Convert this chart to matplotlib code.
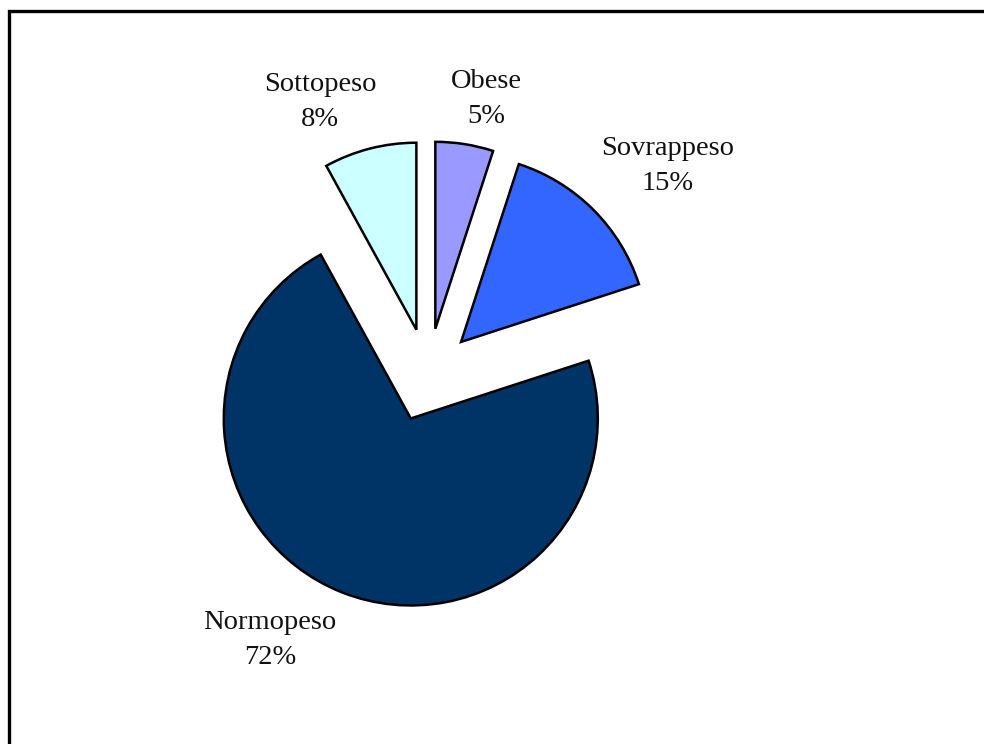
import matplotlib.pyplot as plt
from matplotlib.patches import Rectangle

# Data
categories = ['Obese', 'Sovrappeso', 'Normopeso', 'Sottopeso']
values = [5, 15, 72, 8]
colors = ['#9999FF', '#3366FF', '#003366', '#CCFFFF']
label_pos = [(486, 99), (668, 166), (270, 640), (320, 102)]

plt.rcParams['font.family'] = ['Liberation Serif', 'DejaVu Serif']

fig = plt.figure(figsize=(9.84, 7.44), dpi=100)
ax = fig.add_axes([0, 0, 1, 1])
ax.set_xlim(0, 984)
ax.set_ylim(-744, 0)
ax.set_aspect('equal')
ax.axis('off')

# frame (only top and left edges visible in the crop)
ax.add_patch(Rectangle((8.5, -1000), 1200, 1000 - 10.5, fill=False,
                       edgecolor='black', linewidth=2.4))

radius = 187
# explode is in data units here, so scale by radius
ax.pie(values, colors=colors, startangle=90, counterclock=False,
       explode=[0.25 * radius] * len(values), center=(428, -375), radius=radius,
       wedgeprops=dict(edgecolor='black', linewidth=1.8))

for name, v, (x, y) in zip(categories, values, label_pos):
    ax.text(x, -y, f'{name}\n{v}%', ha='center', va='center',
            fontsize=20.5, color='#111111', linespacing=1.5)

ax.set_xlim(0, 984)
ax.set_ylim(-744, 0)

fig.savefig('out.png', dpi=100)
